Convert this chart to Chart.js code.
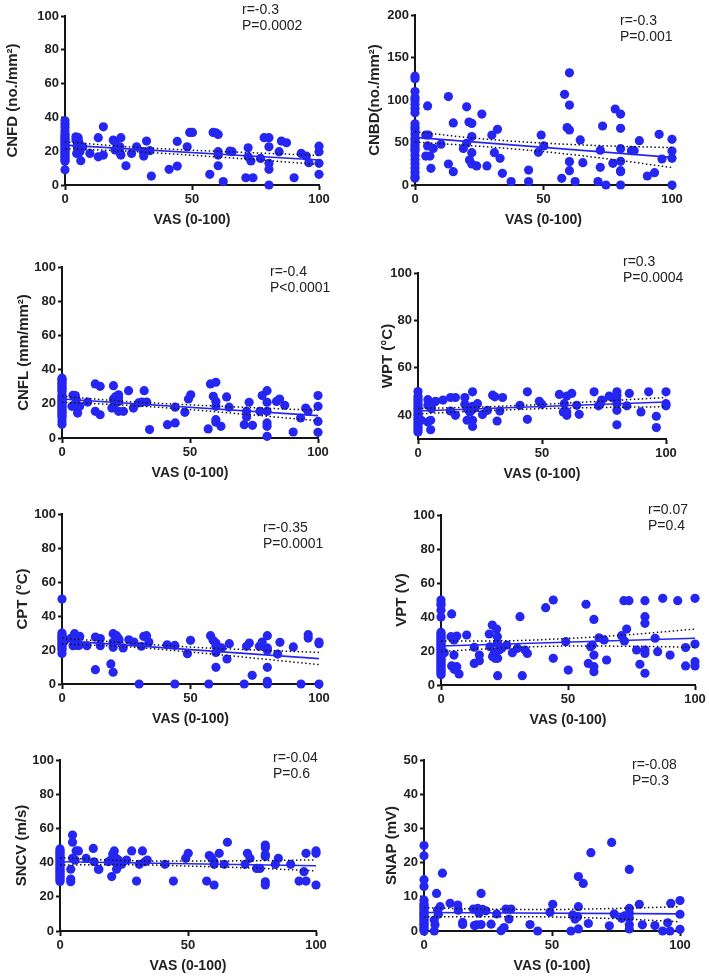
<!DOCTYPE html>
<html>
<head>
<meta charset="utf-8">
<title>VAS correlations</title>
<script src="https://cdn.jsdelivr.net/npm/chart.js@4.4.1/dist/chart.umd.min.js"></script>
<style>
  body { margin: 0; background: #fff; }
  #page { position: relative; width: 709px; height: 977px; overflow: hidden; font-family: "Liberation Sans", Arial, sans-serif; }
  #page canvas { position: absolute; }
  .stat { position: absolute; font-size: 14px; line-height: 16px; color: #222; white-space: nowrap; }
</style>
</head>
<body>
<div id="page"></div>
<script>
// shared x axis (VAS score)
const vasTicks = [0, 50, 100];
const ciVas = [0, 25, 50, 75, 100];

// CNFD
const cnfdTicks = [0, 20, 40, 60, 80, 100];
const cnfdAtZero = [38, 36, 34, 32, 30, 29, 28, 27, 26, 25, 24, 23, 22, 21, 20, 19, 18, 17, 16, 15, 14, 9];
const cnfdVas = [4.3, 5.2, 4.3, 5.4, 4.8, 4.6, 5.9, 6.2, 7, 9.8, 13.1, 13.1, 15.1, 15.1, 19, 19.7, 19.7, 21, 22, 21.6, 22, 21.6, 24, 26.2, 28.2, 30.8, 32.1, 33.4, 31, 34, 41, 44.2, 44.2, 48.1, 49.1, 50.2, 57, 58.3, 59.4, 60.3, 60.3, 60.3, 60.3, 62.3, 64.9, 65.8, 71.2, 72.1, 72.1, 73.2, 74, 77, 78.4, 80.3, 80.3, 80.3, 80.3, 80.3, 84.3, 85.2, 87.2, 90.2, 93, 95, 96, 100, 100, 100, 100];
const cnfdValue = [28.5, 28, 26.6, 25.6, 23, 18.7, 19.7, 14.4, 22.6, 18.7, 28, 16.7, 34.4, 17.7, 26.6, 25.6, 20.7, 22.6, 28, 22.6, 17.7, 19.3, 11.4, 18.7, 22.6, 19.7, 26, 20.3, 17.1, 5.3, 9.3, 11.2, 25.8, 22.6, 31.1, 31.1, 6.3, 31.1, 30.9, 29.9, 19.7, 17.7, 11.4, 2, 20, 19.7, 4.3, 22, 16.7, 14.2, 4.3, 15.7, 28, 28, 22.6, 12.8, 9.3, 0, 19.7, 26, 25, 4.3, 18.7, 17.1, 13.2, 23, 19.7, 12.8, 6.3];
const cnfdFit = [23.6, 14.8];
const cnfdUpper = [25.5, 22.6, 20.6, 19.0, 17.5];
const cnfdLower = [21.5, 20.0, 17.6, 15.0, 12.1];

// CNBD
const cnbdTicks = [0, 50, 100, 150, 200];
const cnbdAtZero = [128, 125, 110, 103, 100, 95, 90, 85, 72, 68, 65, 60, 55, 52, 48, 45, 42, 40, 35, 30, 25, 20, 15, 10, 8];
const cnbdVas = [4.2, 5.2, 4.9, 4.2, 4.9, 5.8, 6.2, 7.1, 10.1, 13, 13, 14.9, 14.9, 18.8, 20.1, 20.1, 21, 22.1, 22.1, 22.1, 21.2, 22.1, 24, 26, 28, 29.9, 30.9, 32.1, 33.1, 34, 37.4, 44.2, 44.2, 48, 49.1, 50.1, 57.1, 58.2, 59.2, 60.1, 60.1, 60.1, 60.1, 60.1, 62.3, 64.3, 65.3, 71.2, 72.1, 72.1, 73, 74.3, 77, 77.9, 80, 80, 80, 80, 80, 80, 80, 84.2, 85.3, 87.3, 90.4, 93.2, 95, 96.1, 100, 100, 100, 100];
const cnbdValue = [58.8, 58.8, 93, 34, 46, 34, 19.6, 43, 48, 104, 24.7, 73, 15.7, 43, 92, 49, 74, 72.5, 57, 38, 29.4, 24.7, 22.4, 83.5, 22.4, 58.8, 38, 65.5, 31.4, 13.7, 4, 17.6, 4, 38.4, 58.8, 46, 7.8, 106.7, 67.5, 64.7, 94, 132, 27.5, 16.9, 4, 53, 26.3, 4, 41, 20.8, 69.4, 0, 25.5, 89.4, 83.5, 66.7, 42.7, 27.8, 16.9, 15.7, 0, 40.4, 40.4, 52.2, 10.6, 14.5, 59.6, 30.6, 53.7, 40, 31.4, 0];
const cnbdFit = [56, 32.5];
const cnbdUpper = [62.7, 54.6, 49.3, 46, 44];
const cnbdLower = [50.5, 45.6, 39.3, 30.8, 20.5];

// CNFL
const cnflTicks = [0, 20, 40, 60, 80, 100];
const cnflAtZero = [35, 34, 33, 32, 31, 30, 29, 28, 27, 25, 24, 23, 22, 21, 20, 19, 18, 17, 16, 15, 14, 13, 12, 10, 8];
const cnflVas = [4.3, 5.2, 5.6, 3.9, 4.8, 5.8, 6.1, 6.9, 10, 13, 13, 14.9, 14.9, 19.5, 20.1, 20.1, 20.8, 20.8, 22.1, 22.1, 22.1, 22.1, 24, 26, 27.9, 29.9, 31.2, 32.1, 33.1, 34.2, 41.2, 44.2, 44.2, 48, 49.4, 50.3, 57.1, 58, 60.1, 59.1, 60.1, 60.1, 60.1, 60.1, 62.1, 64.3, 65.3, 71.2, 72.1, 72.1, 73.1, 74.4, 77.3, 78.2, 80.1, 80.1, 80.1, 80.1, 80.1, 80.1, 83.8, 85, 87, 90.3, 93.2, 95.2, 96.1, 100, 100, 100, 100];
const cnflValue = [25, 24.8, 22.4, 18.5, 19.5, 17.5, 14.6, 18.5, 21, 31.6, 15.6, 30.2, 13.6, 17.5, 30.6, 22.8, 20.5, 24, 25.3, 23.4, 21.4, 15.6, 15.6, 27.7, 17.5, 20.5, 21, 27.7, 21, 4.9, 7.8, 8.8, 18, 15, 22.8, 25.3, 5.3, 31.6, 32.6, 24.4, 21.4, 18.5, 10.7, 9.2, 6.8, 24, 18, 7.8, 15.6, 12.3, 20.9, 7.4, 15.6, 24.8, 27.7, 20.9, 15.6, 8.8, 6.8, 1, 21.4, 22.8, 19.1, 3.5, 11.7, 17.5, 15.6, 24.8, 18.5, 9.7, 3.3];
const cnflFit = [22.8, 13.1];
const cnflUpper = [24.4, 21.4, 19.4, 17.7, 16.2];
const cnflLower = [20.9, 19.2, 16.6, 13.4, 10.1];

// WPT
const wptTicks = [40, 60, 80, 100];
const wptAtZero = [50, 48, 47, 46, 45, 44, 43, 42, 41, 40, 39, 38, 37, 36, 35, 34, 33];
const wptVas = [1.3, 4, 4, 4, 5.1, 5.1, 5.4, 6.3, 7.1, 10.1, 13.1, 13.1, 15.1, 15.1, 18.9, 18.9, 19.8, 19.8, 20.9, 21.6, 22, 22, 22, 22, 22.9, 24, 26, 28, 30.1, 31, 31.9, 33, 34.1, 41.1, 44.1, 44.1, 48.9, 49.9, 57, 58.6, 59, 60, 60, 60, 62, 64, 65, 71, 72.8, 73.5, 74.1, 77.1, 78.4, 80.2, 80.2, 80.2, 80.2, 80.2, 80.2, 84.2, 85.2, 89.9, 93, 96.1, 96.1, 100, 100, 100];
const wptValue = [37.9, 46.6, 44.2, 37.2, 37.9, 33.9, 42.8, 45.4, 45.9, 46.4, 47.5, 41.8, 47.5, 40, 47.5, 44.7, 42.8, 37.9, 41.4, 42.1, 49.9, 43.8, 37.9, 35.3, 43.1, 44.9, 40.3, 42.1, 48.5, 47.8, 37.6, 41.8, 47.5, 44.2, 49.9, 38.3, 45.9, 44.7, 48.8, 41.4, 44.9, 48.1, 41.4, 40, 49.2, 44.2, 40.4, 49.9, 44, 44.9, 46.4, 48.1, 47.5, 49.9, 48.5, 46.4, 44.9, 42.1, 36, 44, 49.2, 41.4, 49.9, 39.6, 34.8, 49.9, 44.9, 44];
const wptFit = [41.8, 45.6];
const wptUpper = [42.9, 43.5, 44.6, 46, 47.5];
const wptLower = [40.6, 41.8, 42.8, 43.3, 43.6];

// CPT
const cptTicks = [0, 20, 40, 60, 80, 100];
const cptAtZero = [50, 30, 29, 28, 27, 26, 25, 24, 23, 22, 21, 20, 18];
const cptVas = [1.4, 3.6, 4.3, 4.9, 5.3, 5.8, 6, 6.9, 6.6, 9.7, 13, 13, 14.9, 14.9, 19, 19.9, 19.9, 19.9, 19.9, 21.2, 21.8, 22.2, 23.8, 26, 28, 30, 30.9, 31.8, 32.9, 33.8, 40.9, 43.9, 43.9, 48.8, 50, 57.1, 57.8, 58.8, 59.9, 59.9, 59.9, 59.9, 62.1, 64.2, 65.1, 70.9, 71.8, 72.9, 74, 76.8, 77.9, 79.9, 79.9, 79.9, 79.9, 79.9, 79.9, 83.9, 84.8, 90, 93, 95.8, 95.8, 100, 100, 100];
const cptValue = [26, 27, 22.5, 29.6, 28, 25, 22.7, 28, 22.7, 22.5, 27.6, 8.4, 26.7, 22.5, 11.8, 24.5, 29.6, 21.6, 6.9, 28.4, 27, 26, 21.2, 26, 24.7, 0, 22.2, 28, 28.4, 24.7, 23.1, 22.7, 0, 17.8, 25.7, 0, 28.4, 25.7, 24.1, 22.2, 18.6, 9.8, 21.2, 14.7, 23.7, 0, 22.2, 24.1, 5.1, 22.2, 24.7, 28.4, 21.2, 19.8, 9.8, 1.6, 0, 17.6, 24.5, 21.8, 0, 29, 27, 24.7, 23.7, 0];
const cptFit = [25.5, 14.9];
const cptUpper = [26.9, 24.3, 21.7, 20, 18.6];
const cptLower = [23.6, 21.9, 18.8, 15.2, 11.4];

// VPT
const vptTicks = [0, 20, 40, 60, 80, 100];
const vptAtZero = [50, 48, 47, 44, 40, 31, 30, 29, 28, 27, 26, 25, 24, 23, 22, 21, 20, 19, 18, 17, 16, 15, 14, 13, 12, 11, 10, 9, 8, 7, 6];
const vptVas = [1.3, 4.2, 3.9, 5.1, 5.1, 4.2, 5.2, 6.2, 6.2, 7.1, 10.1, 13.1, 13.1, 15.1, 15.1, 19, 19.3, 20.2, 20.3, 21, 21.3, 21.9, 22.2, 22.3, 22.3, 22.2, 22.8, 23.9, 25.9, 28.1, 30.1, 31.1, 32, 33.1, 34, 41.2, 44.2, 44.2, 49.1, 50.1, 57.1, 58, 58.9, 59.6, 60.2, 60.2, 60.2, 60.2, 62.2, 64.2, 65.2, 71.1, 72, 72.2, 73.1, 74, 77, 78.3, 80.3, 80.3, 80.3, 80.3, 80.3, 80.3, 84.3, 85.3, 87.3, 90.2, 93.2, 96.3, 96.3, 100, 100, 100, 100];
const vptValue = [19, 41.8, 28.4, 26.5, 17.6, 11.2, 9.2, 10.8, 28.8, 6.5, 29.4, 22.2, 12.7, 17.6, 14.3, 30, 22.5, 35.3, 16.7, 19, 15.7, 32.9, 28.4, 15.7, 5.5, 24.5, 20.6, 21.6, 23.5, 19, 21.6, 40.2, 5.5, 20.6, 18.6, 45.5, 50, 15.7, 25.5, 8.8, 47.5, 12.7, 22.5, 23.5, 38.6, 17.6, 10.8, 7.8, 27.8, 26.5, 14.7, 29, 49.6, 25.9, 32.9, 49.6, 20.6, 12.2, 49.6, 40.2, 36.3, 20.6, 18.6, 6.9, 27.5, 19.6, 51, 17.6, 49.6, 22, 11.2, 51, 24.1, 13.7, 11.2];
const vptFit = [22.9, 27.5];
const vptUpper = [25.9, 26, 27.4, 29.7, 32.9];
const vptLower = [19.7, 21.8, 22.9, 22.8, 22.2];

// SNCV
const sncvTicks = [0, 20, 40, 60, 80, 100];
const sncvAtZero = [48, 47, 46, 45, 44, 43, 42, 41, 40, 39, 38, 37, 36, 35, 34, 33, 32, 31, 30, 29];
const sncvVas = [4.2, 4.2, 4.2, 4.9, 4.9, 4.9, 5.9, 6.3, 7.2, 10.2, 13, 13.3, 15, 15.2, 18.9, 19.9, 20.2, 20.6, 21.2, 21.5, 21.9, 22.1, 22.8, 24.1, 26, 28, 29.9, 31, 32.2, 33.2, 34.1, 41, 44.3, 49.1, 50.1, 57.3, 58.3, 59.2, 60.2, 60.2, 60.2, 62.2, 64.2, 65.4, 72.3, 73.2, 74.2, 76.8, 78.1, 80.2, 80.2, 80.2, 80.2, 80.2, 80.2, 84.1, 85.3, 90.1, 93.4, 95.3, 96.1, 96.1, 100, 100, 100];
const sncvValue = [36.1, 30.4, 28.8, 56.1, 51.9, 42.5, 41.5, 46.8, 46.8, 42.5, 48.3, 40.5, 36.1, 36.1, 40.5, 41.5, 31.8, 45, 46.8, 40.5, 42.5, 36.1, 41.5, 39, 41.5, 46.8, 29.2, 39, 46.8, 40.5, 41.5, 39, 29.2, 42.5, 45.4, 29.2, 44.1, 42.9, 40.5, 39, 26.9, 45.4, 39, 51.9, 39, 45.4, 42.5, 36.6, 36.6, 50.3, 48.7, 44.8, 43.5, 28.8, 26.9, 39, 42.5, 39, 29.2, 34.7, 45.4, 29.2, 46.8, 45.4, 26.9];
const sncvFit = [40.5, 38.2];
const sncvUpper = [42.9, 41.2, 40.9, 41.1, 41.6];
const sncvLower = [38.6, 38.8, 38.0, 36.8, 35.2];

// SNAP
const snapTicks = [0, 10, 20, 30, 40, 50];
const snapAtZero = [25, 22, 15, 13, 9, 8, 7.5, 7, 6.5, 6, 5.5, 5, 4.5, 4, 3.5, 3, 2.5, 2, 1.5, 1, 0.5, 0];
const snapVas = [4, 4.3, 4, 4.9, 5.3, 5.6, 6.3, 7.2, 10.2, 13.2, 13.4, 15.1, 15.1, 19.3, 19.7, 20.6, 21, 21.5, 22.3, 22.3, 22.9, 24.2, 26.2, 28.4, 30.1, 31.3, 32, 33.2, 34, 41.4, 44.4, 49.2, 50.3, 57.4, 58.1, 59, 60, 60.3, 60.3, 60.3, 62.2, 64.2, 65.2, 72.4, 73.3, 74.3, 77.2, 78.3, 80.2, 80.2, 80.2, 80.2, 80.2, 80.2, 84.1, 85.3, 90.2, 93.2, 95.2, 96.1, 96.4, 100, 100, 100];
const snapValue = [3.2, 1.8, 0, 11, 6.1, 4.9, 7.1, 16.9, 8.1, 7.6, 6.1, 2.5, 1.9, 6.4, 1.6, 1.8, 6.6, 5.2, 11, 1.9, 6.3, 5.9, 2, 5, 0.1, 1, 6.4, 3.5, 6.4, 1.9, 0, 5.5, 7.8, 0, 4.7, 3.5, 4.2, 15.9, 7.1, 0.6, 13.9, 2.2, 22.9, 1.5, 25.9, 5, 3.7, 4.4, 18, 6.6, 5.2, 3.9, 1.8, 0.6, 7.8, 1.8, 1.6, 0, 2.4, 0, 8.1, 8.9, 4.9, 0.5];
const snapFit = [5.4, 5.0];
const snapUpper = [6.8, 6.4, 6.3, 6.6, 7.1];
const snapLower = [4.2, 4.2, 4.1, 3.6, 2.7];

const panels = [
  { label: 'CNFD (no./mm²)', ticks: cnfdTicks, zero: cnfdAtZero, vas: cnfdVas, value: cnfdValue, fit: cnfdFit, upper: cnfdUpper, lower: cnfdLower, r: 'r=-0.3', p: 'P=0.0002' },
  { label: 'CNBD(no./mm²)', ticks: cnbdTicks, zero: cnbdAtZero, vas: cnbdVas, value: cnbdValue, fit: cnbdFit, upper: cnbdUpper, lower: cnbdLower, r: 'r=-0.3', p: 'P=0.001' },
  { label: 'CNFL (mm/mm²)', ticks: cnflTicks, zero: cnflAtZero, vas: cnflVas, value: cnflValue, fit: cnflFit, upper: cnflUpper, lower: cnflLower, r: 'r=-0.4', p: 'P<0.0001' },
  { label: 'WPT (°C)', ticks: wptTicks, yMin: 30, zero: wptAtZero, vas: wptVas, value: wptValue, fit: wptFit, upper: wptUpper, lower: wptLower, r: 'r=0.3', p: 'P=0.0004' },
  { label: 'CPT (°C)', ticks: cptTicks, zero: cptAtZero, vas: cptVas, value: cptValue, fit: cptFit, upper: cptUpper, lower: cptLower, r: 'r=-0.35', p: 'P=0.0001' },
  { label: 'VPT (V)', ticks: vptTicks, zero: vptAtZero, vas: vptVas, value: vptValue, fit: vptFit, upper: vptUpper, lower: vptLower, r: 'r=0.07', p: 'P=0.4' },
  { label: 'SNCV (m/s)', ticks: sncvTicks, zero: sncvAtZero, vas: sncvVas, value: sncvValue, fit: sncvFit, upper: sncvUpper, lower: sncvLower, r: 'r=-0.04', p: 'P=0.6' },
  { label: 'SNAP (mV)', ticks: snapTicks, zero: snapAtZero, vas: snapVas, value: snapValue, fit: snapFit, upper: snapUpper, lower: snapLower, r: 'r=-0.08', p: 'P=0.3' }
];

// where each panel sits on the page (pixels)
const boxes = [
  { left: 0,   top: 0,   axisX: 65,  topY: 16,  bottomY: 185, rightX: 319, titleX: 13,  statX: 242, statY: 1 },
  { left: 355, top: 0,   axisX: 415, topY: 15,  bottomY: 185, rightX: 672, titleX: 375, statX: 620, statY: 12 },
  { left: 0,   top: 240, axisX: 62,  topY: 267, bottomY: 438, rightX: 318, titleX: 24,  statX: 270, statY: 263 },
  { left: 355, top: 240, axisX: 418, topY: 273, bottomY: 439, rightX: 666, titleX: 388, statX: 623, statY: 253 },
  { left: 0,   top: 480, axisX: 62,  topY: 514, bottomY: 684, rightX: 319, titleX: 23,  statX: 263, statY: 519 },
  { left: 355, top: 480, axisX: 441, topY: 515, bottomY: 685, rightX: 695, titleX: 402, statX: 648, statY: 501 },
  { left: 0,   top: 725, axisX: 60,  topY: 760, bottomY: 931, rightX: 316, titleX: 22,  statX: 273, statY: 749 },
  { left: 355, top: 725, axisX: 424, topY: 760, bottomY: 931, rightX: 680, titleX: 392, statX: 632, statY: 756 }
];

const blue = 'rgb(38, 38, 242)';
const ink = '#151515';
const page = document.getElementById('page');
Chart.defaults.font.family = '"Liberation Sans", Arial, sans-serif';

function drawPanel(p, box) {
  const canvas = document.createElement('canvas');
  const width = 354;
  const xAxisHeight = 46;
  const height = box.bottomY - box.top + xAxisHeight;
  canvas.width = width;
  canvas.height = height;
  canvas.style.left = box.left + 'px';
  canvas.style.top = box.top + 'px';
  page.appendChild(canvas);

  const points = p.zero.map(v => ({ x: 0, y: v }))
    .concat(p.vas.map((x, i) => ({ x: x, y: p.value[i] })));
  const band = arr => ciVas.map((x, i) => ({ x: x, y: arr[i] }));
  const dotted = {
    type: 'line', borderColor: ink, borderWidth: 1.5, borderDash: [1.5, 2.5],
    pointRadius: 0, cubicInterpolationMode: 'monotone', fill: false
  };

  new Chart(canvas, {
    type: 'scatter',
    data: {
      datasets: [
        Object.assign({ data: band(p.upper) }, dotted),
        Object.assign({ data: band(p.lower) }, dotted),
        { type: 'line', data: [{ x: 0, y: p.fit[0] }, { x: 100, y: p.fit[1] }], borderColor: blue, borderWidth: 1.6, pointRadius: 0, fill: false },
        { data: points, backgroundColor: blue, borderWidth: 0, pointRadius: 4.6, clip: false }
      ]
    },
    options: {
      responsive: false,
      animation: false,
      devicePixelRatio: 1,
      layout: { padding: { top: box.topY - box.top, right: box.left + width - box.rightX, bottom: 0, left: 0 } },
      plugins: { legend: { display: false }, tooltip: { enabled: false } },
      scales: {
        x: {
          type: 'linear', min: 0, max: 100,
          afterBuildTicks: s => { s.ticks = vasTicks.map(v => ({ value: v })); },
          afterFit: s => { s.height = xAxisHeight; },
          ticks: { font: { size: 13, weight: 'bold' }, color: '#222', padding: 2, maxRotation: 0 },
          grid: { drawOnChartArea: false, tickLength: 5, tickWidth: 2, color: ink },
          border: { color: ink, width: 2 },
          title: { display: true, text: 'VAS (0-100)', color: '#222', font: { size: 14, weight: 'bold' }, padding: { top: 0, bottom: 2.6 } }
        },
        y: {
          type: 'linear',
          min: p.yMin !== undefined ? p.yMin : p.ticks[0],
          max: p.ticks[p.ticks.length - 1],
          afterBuildTicks: s => { s.ticks = p.ticks.map(v => ({ value: v })); },
          afterFit: s => { s.width = box.axisX - box.left; },
          ticks: { font: { size: 13, weight: 'bold' }, color: '#222', padding: 2 },
          grid: { drawOnChartArea: false, tickLength: 4, tickWidth: 2, color: ink },
          border: { color: ink, width: 2 },
          title: { display: true, text: p.label, color: '#222', font: { size: 15, weight: 'bold' }, padding: { top: box.titleX - box.left - 9, bottom: 0 } }
        }
      }
    }
  });

  const stat = document.createElement('div');
  stat.className = 'stat';
  stat.style.left = box.statX + 'px';
  stat.style.top = box.statY + 'px';
  stat.innerHTML = p.r + '<br>' + p.p;
  page.appendChild(stat);
}

panels.forEach((p, i) => drawPanel(p, boxes[i]));
</script>
</body>
</html>
